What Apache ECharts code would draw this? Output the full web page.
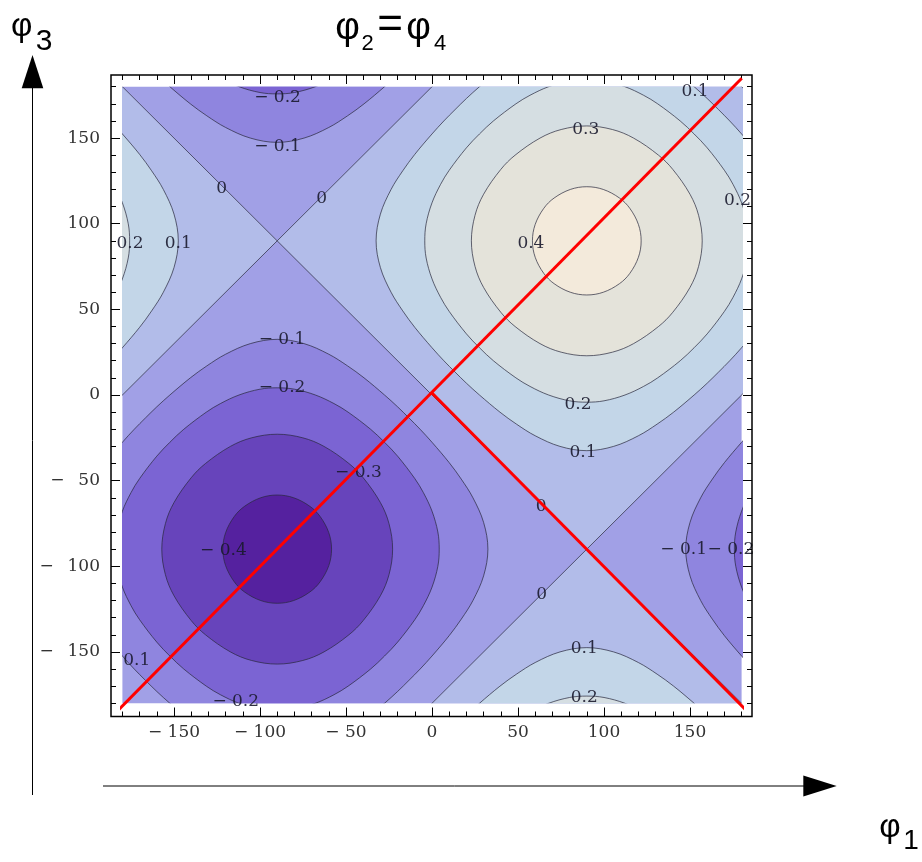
<!DOCTYPE html>
<html>
<head>
<meta charset="utf-8">
<script src="https://cdn.jsdelivr.net/npm/echarts@6/dist/echarts.min.js"></script>
<style>html,body{margin:0;padding:0;background:#fff}#chart{width:922px;height:862px}</style>
</head>
<body>
<div id="chart"></div>
<script>
// ---------- data ----------
const xTickValues = [-150, -100, -50, 0, 50, 100, 150];
const yTickValues = [-150, -100, -50, 0, 50, 100, 150];

// contour level 0 (boundary of f>0 around the maximum at (90,90))
const zeroDiamond = [[-90, 90], [90, 270], [270, 90], [90, -90]];

// contour loops around the maximum (90,90)
const loopMax04 = [[121.6,90],[120,99.6],[115,109],[109,115],[99.6,120],[90,121.6],
  [80.4,120],[71,115],[65,109],[60,99.6],[58.4,90],
  [60,80.4],[65,71],[71,65],[80.4,60],[90,58.4],
  [99.6,60],[109,65],[115,71],[120,80.4]];
const loopMax03 = [[157.1,90],[155,104.9],[150,117.2],[140,131.7],[131.7,140],[117.2,150],[104.9,155],[90,157.1],
  [75.1,155],[62.8,150],[48.3,140],[40,131.7],[30,117.2],[25,104.9],[22.9,90],
  [25,75.1],[30,62.8],[40,48.3],[48.3,40],[62.8,30],[75.1,25],[90,22.9],
  [104.9,25],[117.2,30],[131.7,40],[140,48.3],[150,62.8],[155,75.1]];
const loopMax02 = [[184.2,90],[183.4,100],[180,112.2],[175,123],[170,131.2],[160,144.3],[152.4,152.4],[144.3,160],[131.2,170],[123,175],[112.2,180],[100,183.4],[90,184.2],
  [80,183.4],[67.8,180],[57,175],[48.8,170],[35.7,160],[27.6,152.4],[20,144.3],[10,131.2],[5,123],[0,112.2],[-3.4,100],[-4.2,90],
  [-3.4,80],[0,67.8],[5,57],[10,48.8],[20,35.7],[27.6,27.6],[35.7,20],[48.8,10],[57,5],[67.8,0],[80,-3.4],[90,-4.2],
  [100,-3.4],[112.2,0],[123,5],[131.2,10],[144.3,20],[152.4,27.6],[160,35.7],[170,48.8],[175,57],[180,67.8],[183.4,80]];
const loopMax01 = [[212.5,90],[210,105.6],[203.8,120],[197,130.9],[190,140.5],[180,152.4],[173.1,160],[166.6,166.6],[160,173.1],[152.4,180],[140.5,190],[130.9,197],[120,203.8],[105.6,210],[90,212.5],
  [74.4,210],[60,203.8],[49.1,197],[39.5,190],[27.6,180],[20,173.1],[13.4,166.6],[6.9,160],[0,152.4],[-10,140.5],[-17,130.9],[-23.8,120],[-30,105.6],[-32.5,90],
  [-30,74.4],[-23.8,60],[-17,49.1],[-10,39.5],[0,27.6],[6.9,20],[13.4,13.4],[20,6.9],[27.6,0],[39.5,-10],[49.1,-17],[60,-23.8],[74.4,-30],[90,-32.5],
  [105.6,-30],[120,-23.8],[130.9,-17],[140.5,-10],[152.4,0],[160,6.9],[166.6,13.4],[173.1,20],[180,27.6],[190,39.5],[197,49.1],[203.8,60],[210,74.4]];

// contour loops around the minimum (-90,-90)
const loopMin04 = [[-121.6,-90],[-120,-99.6],[-115,-109],[-109,-115],[-99.6,-120],[-90,-121.6],
  [-80.4,-120],[-71,-115],[-65,-109],[-60,-99.6],[-58.4,-90],
  [-60,-80.4],[-65,-71],[-71,-65],[-80.4,-60],[-90,-58.4],
  [-99.6,-60],[-109,-65],[-115,-71],[-120,-80.4]];
const loopMin03 = [[-157.1,-90],[-155,-104.9],[-150,-117.2],[-140,-131.7],[-131.7,-140],[-117.2,-150],[-104.9,-155],[-90,-157.1],
  [-75.1,-155],[-62.8,-150],[-48.3,-140],[-40,-131.7],[-30,-117.2],[-25,-104.9],[-22.9,-90],
  [-25,-75.1],[-30,-62.8],[-40,-48.3],[-48.3,-40],[-62.8,-30],[-75.1,-25],[-90,-22.9],
  [-104.9,-25],[-117.2,-30],[-131.7,-40],[-140,-48.3],[-150,-62.8],[-155,-75.1]];
const loopMin02 = [[-184.2,-90],[-183.4,-100],[-180,-112.2],[-175,-123],[-170,-131.2],[-160,-144.3],[-152.4,-152.4],[-144.3,-160],[-131.2,-170],[-123,-175],[-112.2,-180],[-100,-183.4],[-90,-184.2],
  [-80,-183.4],[-67.8,-180],[-57,-175],[-48.8,-170],[-35.7,-160],[-27.6,-152.4],[-20,-144.3],[-10,-131.2],[-5,-123],[0,-112.2],[3.4,-100],[4.2,-90],
  [3.4,-80],[0,-67.8],[-5,-57],[-10,-48.8],[-20,-35.7],[-27.6,-27.6],[-35.7,-20],[-48.8,-10],[-57,-5],[-67.8,0],[-80,3.4],[-90,4.2],
  [-100,3.4],[-112.2,0],[-123,-5],[-131.2,-10],[-144.3,-20],[-152.4,-27.6],[-160,-35.7],[-170,-48.8],[-175,-57],[-180,-67.8],[-183.4,-80]];
const loopMin01 = [[-212.5,-90],[-210,-105.6],[-203.8,-120],[-197,-130.9],[-190,-140.5],[-180,-152.4],[-173.1,-160],[-166.6,-166.6],[-160,-173.1],[-152.4,-180],[-140.5,-190],[-130.9,-197],[-120,-203.8],[-105.6,-210],[-90,-212.5],
  [-74.4,-210],[-60,-203.8],[-49.1,-197],[-39.5,-190],[-27.6,-180],[-20,-173.1],[-13.4,-166.6],[-6.9,-160],[0,-152.4],[10,-140.5],[17,-130.9],[23.8,-120],[30,-105.6],[32.5,-90],
  [30,-74.4],[23.8,-60],[17,-49.1],[10,-39.5],[0,-27.6],[-6.9,-20],[-13.4,-13.4],[-20,-6.9],[-27.6,0],[-39.5,10],[-49.1,17],[-60,23.8],[-74.4,30],[-90,32.5],
  [-105.6,30],[-120,23.8],[-130.9,17],[-140.5,10],[-152.4,0],[-160,-6.9],[-166.6,-13.4],[-173.1,-20],[-180,-27.6],[-190,-39.5],[-197,-49.1],[-203.8,-60],[-210,-74.4]];

// the plot is periodic (360 degrees): copies that wrap into the frame
const maxPeriodShifts = [[0, 0], [-360, 0], [0, -360]];
const minPeriodShifts = [[0, 0], [360, 0], [0, 360]];

// contour labels
const labelTexts = ['− 0.2','− 0.1','0','0','0.2','0.1','0.4','0.3','0.1','0.2',
  '− 0.1','− 0.2','0.2','0.1','− 0.3','0','− 0.4','− 0.1','− 0.2','0','0.1','0.2','0.1','− 0.2'];
const labelX = [-89.8,-89.8,-122.3,-64.1,-175.6,-147.5,57.5,89.4,152.9,177.6,
  -87.2,-87.2,84.9,87.8,-42.8,63.4,-121.3,146.3,173.8,63.8,88.5,88.5,-171.7,-114.1];
const labelY = [173.8,145,120.7,114.8,88.6,88.6,88.2,155.1,177.1,113.3,
  32.1,4.1,-5.8,-33.9,-45.1,-65.4,-91.1,-90.5,-90.5,-116.8,-147.9,-176.5,-155.1,-179.1];

// red annotation lines
const redLineA = [[-183.3, -184.9], [180.1, 184.9]];
const redLineB = [[0, 1.2], [183.7, -185.1]];

// ---------- styling ----------
const COL = {
  bm1: '#a1a0e6',  // -0.1 .. 0
  b0: '#b2bce9',   // 0 .. 0.1
  b1: '#c3d6e8',   // 0.1 .. 0.2
  b2: '#d5dee2',   // 0.2 .. 0.3
  b3: '#e4e3da',   // 0.3 .. 0.4
  b4: '#f3eadb',   // > 0.4
  bm2: '#8f85df',  // -0.2 .. -0.1
  bm3: '#7b64d3',  // -0.3 .. -0.2
  bm4: '#6744bb',  // -0.4 .. -0.3
  bm5: '#55219f'   // < -0.4
};
const SM = 0.35;
const layers = [
  { pts: zeroDiamond, shifts: maxPeriodShifts, color: COL.b0, smooth: 0 },
  { pts: loopMax01, shifts: maxPeriodShifts, color: COL.b1, smooth: SM },
  { pts: loopMax02, shifts: maxPeriodShifts, color: COL.b2, smooth: SM },
  { pts: loopMax03, shifts: maxPeriodShifts, color: COL.b3, smooth: SM },
  { pts: loopMax04, shifts: maxPeriodShifts, color: COL.b4, smooth: SM },
  { pts: loopMin01, shifts: minPeriodShifts, color: COL.bm2, smooth: SM },
  { pts: loopMin02, shifts: minPeriodShifts, color: COL.bm3, smooth: SM },
  { pts: loopMin03, shifts: minPeriodShifts, color: COL.bm4, smooth: SM },
  { pts: loopMin04, shifts: minPeriodShifts, color: COL.bm5, smooth: SM }
];

const GRID = { left: 122.4, top: 86.7, width: 619.2, height: 616.6 };
const FRAME = { x: 111, y: 75, w: 641, h: 641.5 };
const serif = 'DejaVu Serif';
const sans = 'Liberation Sans';

function fmtX(v) { return v < 0 ? '\u2212 ' + Math.abs(v) : String(v); }
function fmtY(v) { return v < 0 ? '\u2212\u2002 ' + Math.abs(v) : String(v); }

function layerRender(fillMode) {
  return function (params, api) {
    const L = layers[params.dataIndex];
    return {
      type: 'group',
      children: L.shifts.map(function (s) {
        return {
          type: 'polygon',
          z2: params.dataIndex,
          silent: true,
          shape: { points: L.pts.map(function (p) { return api.coord([p[0] + s[0], p[1] + s[1]]); }), smooth: L.smooth },
          style: fillMode ? { fill: L.color, stroke: null, lineWidth: 0 }
                          : { fill: null, stroke: 'rgba(40,40,60,0.7)', lineWidth: 1 }
        };
      })
    };
  };
}

function valueAxis(pos, offset, major, showLabel) {
  const base = {
    type: 'value', gridIndex: 0, position: pos, offset: offset,
    min: -180, max: 180,
    axisLine: { show: false, onZero: false }, splitLine: { show: false }
  };
  const isX = (pos === 'bottom' || pos === 'top');
  const vals = isX ? xTickValues : yTickValues;
  if (major) {
    base.axisTick = { show: true, inside: true, length: 9, customValues: vals, lineStyle: { color: '#000', width: 1 } };
    base.axisLabel = showLabel ? {
      show: true, customValues: vals, formatter: isX ? fmtX : fmtY,
      margin: isX ? 8 : 11,
      fontFamily: serif, fontSize: 17, color: '#333'
    } : { show: false };
  } else {
    base.interval = 10;
    base.axisTick = { show: true, inside: true, length: 5, lineStyle: { color: '#000', width: 1 } };
    base.axisLabel = { show: false };
  }
  return base;
}

const chart = echarts.init(document.getElementById('chart'), null, { renderer: 'canvas' });
chart.setOption({
  animation: false,
  backgroundColor: '#fff',
  grid: { left: GRID.left, top: GRID.top, width: GRID.width, height: GRID.height,
          show: true, backgroundColor: COL.bm1, borderWidth: 0 },
  xAxis: [
    valueAxis('bottom', 13.2, true, true),
    valueAxis('bottom', 13.2, false, false),
    valueAxis('top', 11.7, true, false),
    valueAxis('top', 11.7, false, false)
  ],
  yAxis: [
    valueAxis('left', 11.4, true, true),
    valueAxis('left', 11.4, false, false),
    valueAxis('right', 10.4, true, false),
    valueAxis('right', 10.4, false, false)
  ],
  series: [
    { type: 'custom', name: 'fills', coordinateSystem: 'cartesian2d', xAxisIndex: 0, yAxisIndex: 0,
      clip: true, z: 1, silent: true,
      data: layers.map(function (l, i) { return [0, 0, i]; }),
      renderItem: layerRender(true) },
    { type: 'custom', name: 'contours', coordinateSystem: 'cartesian2d', xAxisIndex: 0, yAxisIndex: 0,
      clip: true, z: 2, silent: true,
      data: layers.map(function (l, i) { return [0, 0, i]; }),
      renderItem: layerRender(false) },
    { type: 'custom', name: 'labels', coordinateSystem: 'cartesian2d', xAxisIndex: 0, yAxisIndex: 0,
      clip: false, z: 3, silent: true,
      data: labelTexts.map(function (t, i) { return [labelX[i], labelY[i]]; }),
      renderItem: function (params, api) {
        const pt = api.coord([api.value(0), api.value(1)]);
        return { type: 'text', x: pt[0], y: pt[1], silent: true,
          style: { text: labelTexts[params.dataIndex], fontFamily: serif, fontSize: 17,
                   fill: 'rgba(25,25,45,0.9)', align: 'center', verticalAlign: 'middle' } };
      } },
    { type: 'line', name: 'redA', xAxisIndex: 0, yAxisIndex: 0, data: redLineA, showSymbol: false,
      clip: false, z: 5, silent: true, lineStyle: { color: '#ff0000', width: 3 } },
    { type: 'line', name: 'redB', xAxisIndex: 0, yAxisIndex: 0, data: redLineB, showSymbol: false,
      clip: false, z: 5, silent: true, lineStyle: { color: '#ff0000', width: 3 } }
  ],
  graphic: [
    { type: 'rect', z: 50, silent: true,
      shape: { x: FRAME.x, y: FRAME.y, width: FRAME.w, height: FRAME.h },
      style: { fill: null, stroke: '#000', lineWidth: 1.5 } },
    // vertical arrow (phi_3)
    { type: 'line', z: 50, shape: { x1: 32.5, y1: 795, x2: 32.5, y2: 86 }, style: { stroke: '#000', lineWidth: 1 } },
    { type: 'polygon', z: 50, shape: { points: [[32.5, 55], [21.7, 88.3], [43.3, 88.3]] }, style: { fill: '#000' } },
    // horizontal arrow (phi_1)
    { type: 'line', z: 50, shape: { x1: 103, y1: 786, x2: 806, y2: 786 }, style: { stroke: '#000', lineWidth: 1 } },
    { type: 'polygon', z: 50, shape: { points: [[836.7, 786], [803.3, 775.5], [803.3, 796.5]] }, style: { fill: '#000' } },
    // axis names
    { type: 'text', z: 50, x: 21.7, y: 27, style: { text: 'φ', fontFamily: sans, fontSize: 33, fill: '#000', align: 'center', verticalAlign: 'middle' } },
    { type: 'text', z: 50, x: 44.2, y: 42, style: { text: '3', fontFamily: sans, fontSize: 30, fill: '#000', align: 'center', verticalAlign: 'middle' } },
    { type: 'text', z: 50, x: 890, y: 828.3, style: { text: 'φ', fontFamily: sans, fontSize: 33, fill: '#000', align: 'center', verticalAlign: 'middle' } },
    { type: 'text', z: 50, x: 911, y: 841, style: { text: '1', fontFamily: sans, fontSize: 28, fill: '#000', align: 'center', verticalAlign: 'middle' } },
    // title phi_2 = phi_4
    { type: 'text', z: 50, x: 347.5, y: 29, style: { text: 'φ', fontFamily: sans, fontSize: 38, fill: '#000', align: 'center', verticalAlign: 'middle' } },
    { type: 'text', z: 50, x: 367.5, y: 43.5, style: { text: '2', fontFamily: sans, fontSize: 22, fill: '#000', align: 'center', verticalAlign: 'middle' } },
    { type: 'text', z: 50, x: 390, y: 25.5, style: { text: '=', fontFamily: sans, fontSize: 44, fill: '#000', align: 'center', verticalAlign: 'middle' } },
    { type: 'text', z: 50, x: 418.5, y: 29, style: { text: 'φ', fontFamily: sans, fontSize: 38, fill: '#000', align: 'center', verticalAlign: 'middle' } },
    { type: 'text', z: 50, x: 440, y: 43.5, style: { text: '4', fontFamily: sans, fontSize: 22, fill: '#000', align: 'center', verticalAlign: 'middle' } }
  ]
});
</script>
</body>
</html>
